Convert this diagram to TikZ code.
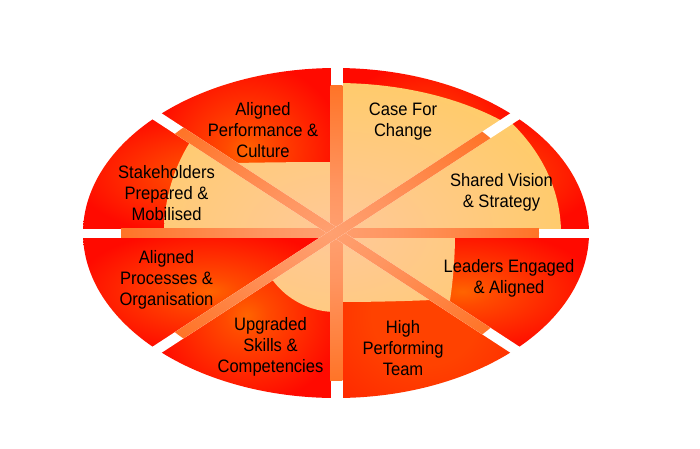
\documentclass[tikz,border=0pt]{standalone}
\usepackage{fontspec}
\setmainfont[FakeStretch=0.92]{Liberation Sans}
\definecolor{rpIn}{HTML}{FF6400}
\definecolor{rpMid}{HTML}{FF4A00}
\definecolor{rpOut}{HTML}{FF0A00}
\definecolor{hpIn}{HTML}{FF4200}
\definecolor{hpOut}{HTML}{FF2800}
\definecolor{plIn}{HTML}{FFC898}
\definecolor{plMid}{HTML}{FFCA82}
\definecolor{plOut}{HTML}{FFCC66}
\definecolor{orIn}{HTML}{FFA070}
\definecolor{orMid}{HTML}{FF9560}
\definecolor{orOut}{HTML}{FF6610}
\pgfdeclareradialshading{redpiece}{\pgfpoint{0bp}{0bp}}{color(0bp)=(rpIn); color(6bp)=(rpMid); color(27bp)=(rpOut); color(50bp)=(rpOut)}
\pgfdeclareradialshading{hptpiece}{\pgfpoint{0bp}{0bp}}{color(0bp)=(hpIn); color(15bp)=(hpIn); color(35bp)=(hpOut); color(50bp)=(hpOut)}
\pgfdeclareradialshading{paleshade}{\pgfpoint{0bp}{0bp}}{color(0bp)=(plIn); color(12bp)=(plMid); color(26bp)=(plOut); color(50bp)=(plOut)}
\pgfdeclareradialshading{orangeshade}{\pgfpoint{0bp}{0bp}}{color(0bp)=(orIn); color(8bp)=(orMid); color(32bp)=(orOut); color(50bp)=(orOut)}
\tikzset{
  sec/.style 2 args={insert path={(O) -- ([shift={(O)}]#1:253 and 165) arc[start angle=#1,end angle=#2,x radius=253,y radius=165] -- cycle}},
  lbl/.style={align=center, inner sep=0pt, text=black, font=\fontsize{18}{21}\selectfont}
}
\newcommand\palepart[4]{%
  \begin{scope}
    \clip[sec={#1}{#2}];
    \clip (O) ellipse[x radius=#3, y radius=#4];
    \shade[shading=paleshade] (O) ellipse[x radius=253, y radius=165];
  \end{scope}}
\begin{document}
\begin{tikzpicture}[x=1pt,y=-1pt]
\useasboundingbox (0,0) rectangle (700,448);
\fill[white] (0,0) rectangle (700,448);
\coordinate (O) at (336,233);
\coordinate (B) at (330,233);
% red pieces
\shade[shading=redpiece, sec={-90}{-45}];
\shade[shading=redpiece, sec={-45}{0}];
\shade[shading=redpiece, sec={0}{45}];
\shade[shading=hptpiece, sec={45}{90}];
\shade[shading=redpiece, sec={90}{135}];
\shade[shading=redpiece, sec={135}{180}];
\shade[shading=redpiece, sec={180}{225}];
\shade[shading=redpiece, sec={225}{270}];
% pale parts
\palepart{-90}{-45}{250}{150}
\palepart{-45}{0}{225}{176}
\palepart{0}{45}{119}{234}
\palepart{45}{90}{400}{69}
\palepart{90}{135}{79}{79}
\palepart{180}{225}{172}{172}
\palepart{225}{270}{600}{71}
% gaps between the pieces
\foreach \band in {
  {(16,228.5) -- (16,237.8) -- (656,237.8) -- (656,228.5) -- cycle},
  {(330.5,0) -- (330.5,448) -- (342.5,448) -- (342.5,0) -- cycle},
  {(601.3,412.0) -- (606.7,403.6) -- (70.7,54.0) -- (65.3,62.4) -- cycle},
  {(606.7,62.4) -- (601.3,54.0) -- (65.3,403.6) -- (70.7,412.0) -- cycle}}{
  \fill[white] \band;
  \begin{scope}
    \clip (B) ellipse[x radius=209, y radius=148];
    \clip \band;
    \shade[shading=orangeshade] (B) ellipse[x radius=209, y radius=148];
  \end{scope}
}
% labels
\node[lbl] (cfc) at (403,121.4) {Case For\\Change};
\node[lbl] (sv) at (501.5,192.3) {Shared Vision\\\& Strategy};
\node[lbl] (le) at (509,278) {Leaders Engaged\\\& Aligned};
\node[lbl] (hpt) at (403,348.5) {High\\Performing\\Team};
\node[lbl] (us) at (270.5,347) {Upgraded\\Skills \&\\Competencies};
\node[lbl] (ap) at (166.5,279.4) {Aligned\\Processes \&\\Organisation};
\node[lbl] (sh) at (166.5,193.5) {Stakeholders\\Prepared \&\\Mobilised};
\node[lbl] (apc) at (263,130) {Aligned\\Performance \&\\Culture};
\end{tikzpicture}
\end{document}
